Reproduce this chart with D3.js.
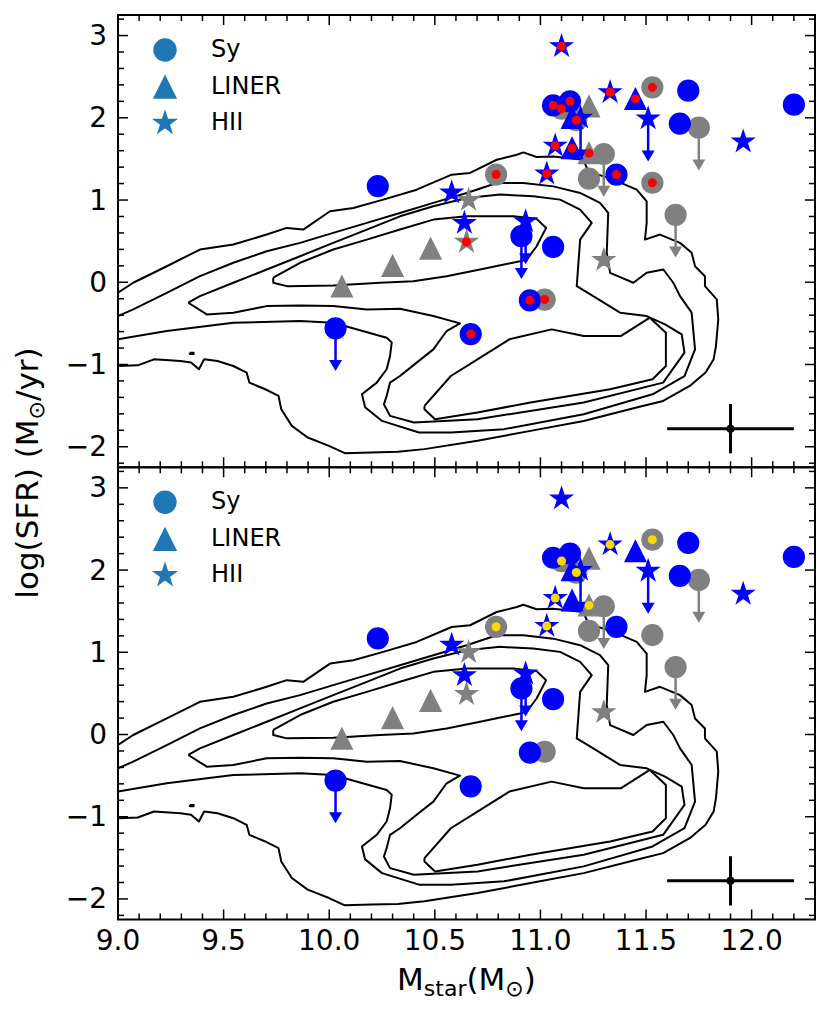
<!DOCTYPE html>
<html><head><meta charset="utf-8">
<script src="https://cdn.jsdelivr.net/npm/d3@7"></script>
<style>body{margin:0;background:#fff;} svg{display:block;font-family:"DejaVu Sans",sans-serif;}</style>
</head><body><svg id="c" width="830" height="1012"></svg>
<script>
// ---------- data ----------
const xDomain = [9.0, 12.3];
const yDomain = [-2.25, 3.25];
const xMajorTicks = [9.0, 9.5, 10.0, 10.5, 11.0, 11.5, 12.0];
const xTickLabels = ["9.0", "9.5", "10.0", "10.5", "11.0", "11.5", "12.0"];
const yMajorTicks = [-2, -1, 0, 1, 2, 3];
const yTickLabels = ["\u22122", "\u22121", "0", "1", "2", "3"];
const legendLabels = ["Sy", "LINER", "HII"];

// Sy (circles)
const syX   = [10.23, 10.03, 10.67, 10.91, 11.06, 10.95, 11.06, 11.14, 11.36, 11.70, 11.66, 12.20, 10.79, 11.02, 11.53, 11.53, 11.23, 11.30, 11.75, 11.64, 11.10, 11.17];
const syY   = [1.17, -0.56, -0.63, 0.56, 0.43, -0.22, 2.15, 2.20, 1.31, 2.33, 1.93, 2.16, 1.31, -0.21, 2.37, 1.21, 1.26, 1.56, 1.88, 0.82, 2.11, 1.97];
const syGrp = ["b","b","b","b","b","b","b","b","b","b","b","b","g","g","g","g","g","g","g","g","g","g"];
const syLim = [0,1,0,1,0,0,0,0,0,0,0,0, 0,0,0,0,0,1,1,1,0,0];
const syRed = [0,0,1,0,0,1,1,1,1,0,0,0, 1,1,1,1,0,0,0,0,1,1];
const syGold= [0,0,0,0,0,0,0,0,0,0,0,0, 1,0,1,0,0,0,0,0,1,1];

// LINER (triangles)
const liX   = [11.15, 11.15, 11.45, 10.06, 10.30, 10.48, 11.23, 11.23];
const liY   = [2.00, 1.63, 2.23, -0.05, 0.20, 0.41, 2.14, 1.57];
const liGrp = ["b","b","b","g","g","g","g","g"];
const liLim = [0,0,0,0,0,0,0,0];
const liRed = [0,1,1,0,0,0,0,1];
const liGold= [0,0,0,0,0,0,0,1];

// HII (stars)
const hiX   = [11.10, 11.07, 11.03, 11.33, 11.19, 11.51, 11.96, 10.58, 10.64, 10.93, 10.66, 10.65, 11.30];
const hiY   = [2.87, 1.66, 1.32, 2.31, 2.00, 1.99, 1.71, 1.09, 0.72, 0.74, 1.00, 0.49, 0.27];
const hiGrp = ["b","b","b","b","b","b","b","b","b","b","g","g","g"];
const hiLim = [0,0,0,0,1,1,0,0,0,1, 0,0,0];
const hiRed = [1,1,1,1,0,0,0,0,0,0, 0,1,0];
const hiGold= [0,1,1,1,0,0,0,0,0,0, 0,0,0];

const arrowLen = 0.52;            // length of upper-limit arrows (dex)
const errX = [11.9], errY = [-1.78], errDX = [0.3], errDY = [0.3];

// density contours (x, y) -- same in both panels
const contour1 = [[9.000,-0.127],[9.072,-0.006],[9.231,0.195],[9.388,0.398],[9.546,0.459],[9.704,0.580],[9.799,0.661],[9.877,0.641],[10.004,0.863],[10.114,0.904],[10.256,1.005],[10.414,1.126],[10.580,1.308],[10.667,1.329],[10.793,1.490],[10.888,1.551],[10.919,1.579],[10.982,1.523],[11.061,1.530],[11.203,1.490],[11.227,1.348],[11.345,1.248],[11.456,1.126],[11.503,0.984],[11.503,0.722],[11.495,0.519],[11.566,0.580],[11.661,0.479],[11.716,0.358],[11.732,0.195],[11.779,0.074],[11.779,-0.047],[11.835,-0.209],[11.842,-0.452],[11.831,-0.776],[11.820,-0.937],[11.782,-1.098],[11.707,-1.261],[11.581,-1.443],[11.455,-1.523],[11.205,-1.686],[10.953,-1.807],[10.702,-1.928],[10.451,-2.029],[10.325,-2.062],[10.200,-2.069],[10.074,-2.078],[9.999,-1.989],[9.898,-1.887],[9.823,-1.746],[9.773,-1.544],[9.760,-1.382],[9.697,-1.301],[9.622,-1.220],[9.609,-1.098],[9.546,-1.018],[9.471,-0.958],[9.408,-0.937],[9.383,-1.058],[9.346,-0.977],[9.295,-0.958],[9.170,-0.937],[9.094,-1.010],[9.000,-1.018]];
const contour2 = [[9.000,-0.411],[9.072,-0.330],[9.231,-0.128],[9.388,0.074],[9.546,0.237],[9.704,0.377],[9.862,0.479],[10.019,0.601],[10.178,0.722],[10.335,0.843],[10.493,0.965],[10.651,1.086],[10.793,1.208],[10.919,1.208],[11.061,1.166],[11.188,1.086],[11.282,0.965],[11.321,0.843],[11.314,0.358],[11.330,0.115],[11.440,-0.006],[11.503,0.115],[11.582,0.155],[11.629,-0.006],[11.661,-0.169],[11.716,-0.370],[11.732,-0.816],[11.682,-1.140],[11.531,-1.362],[11.205,-1.604],[10.828,-1.786],[10.577,-1.826],[10.425,-1.826],[10.250,-1.686],[10.170,-1.519],[10.155,-1.362],[10.225,-1.220],[10.272,-1.058],[10.288,-0.897],[10.296,-0.731],[10.272,-0.674],[10.019,-0.492],[9.862,-0.472],[9.546,-0.492],[9.231,-0.593],[9.000,-0.694]];
const contour3 = [[9.333,-0.249],[9.388,-0.169],[9.546,-0.006],[9.704,0.155],[9.862,0.317],[10.019,0.479],[10.178,0.641],[10.335,0.802],[10.493,0.924],[10.651,1.025],[10.809,1.066],[10.966,1.045],[11.093,1.005],[11.188,0.883],[11.243,0.722],[11.188,0.519],[11.172,-0.047],[11.250,-0.169],[11.377,-0.370],[11.503,-0.411],[11.590,-0.512],[11.669,-0.633],[11.682,-0.856],[11.581,-1.220],[11.205,-1.462],[10.702,-1.665],[10.401,-1.705],[10.288,-1.625],[10.259,-1.483],[10.272,-1.382],[10.288,-1.220],[10.335,-1.140],[10.414,-0.977],[10.493,-0.816],[10.556,-0.593],[10.619,-0.500],[10.493,-0.411],[10.335,-0.322],[10.178,-0.330],[10.019,-0.290],[9.862,-0.282],[9.704,-0.290],[9.546,-0.370],[9.420,-0.391],[9.333,-0.249]];
const contour4a = [[9.735,0.055],[9.862,0.237],[10.019,0.398],[10.178,0.519],[10.335,0.641],[10.493,0.762],[10.651,0.802],[10.809,0.802],[10.872,0.802],[10.982,0.771],[11.027,0.661],[10.982,0.438],[10.935,0.277],[10.903,0.256],[10.714,0.155],[10.556,0.074],[10.398,0.013],[10.241,-0.006],[10.019,-0.039],[9.799,-0.047],[9.735,-0.006],[9.735,0.055]];
const contour4b = [[10.451,-1.504],[10.576,-1.140],[10.702,-0.937],[10.853,-0.694],[11.053,-0.573],[11.205,-0.654],[11.380,-0.654],[11.518,-0.431],[11.594,-0.613],[11.594,-1.018],[11.531,-1.180],[11.330,-1.301],[10.953,-1.462],[10.702,-1.584],[10.501,-1.665],[10.451,-1.544],[10.451,-1.504]];
const contourIsland = [[9.340,-0.857],[9.358,-0.857],[9.358,-0.872],[9.340,-0.872],[9.340,-0.857]];
const contours = [contour1, contour2, contour3, contour4a, contour4b, contourIsland];

// ---------- drawing ----------
const svg = d3.select("#c");
const L = 118, R = 815;
const panels = [
  {top: 15, bot: 467.3, dotColor: "#ff0000", dotKey: "red"},
  {top: 467.3, bot: 919.5, dotColor: "#ffd700", dotKey: "gold"}
];
const x = d3.scaleLinear().domain(xDomain).range([L, R]);
const colorOf = {b: "#0000ff", g: "#808080"};

function circlePath(s){ const r=s/2; return `M${r},0A${r},${r} 0 1,1 ${-r},0A${r},${r} 0 1,1 ${r},0Z`; }
function triPath(s){ const h=s/2; return `M0,${-h}L${h},${h}L${-h},${h}Z`; }
function starPath(s){
  const ro=s/2, ri=ro*0.381966; let p="";
  for(let k=0;k<10;k++){ const r=k%2?ri:ro; const a=-Math.PI/2+k*Math.PI/5;
    p+=(k?"L":"M")+(r*Math.cos(a)).toFixed(2)+","+(r*Math.sin(a)).toFixed(2); }
  return p+"Z";
}

const groups = [
  {X: syX, Y: syY, G: syGrp, lim: syLim, red: syRed, gold: syGold, shape: circlePath, ms: 20.8},
  {X: liX, Y: liY, G: liGrp, lim: liLim, red: liRed, gold: liGold, shape: triPath, ms: 20.8},
  {X: hiX, Y: hiY, G: hiGrp, lim: hiLim, red: hiRed, gold: hiGold, shape: starPath, ms: 22}
];

const xMinor = d3.range(9.0, 12.3001, 0.1).filter(v => Math.abs(v*2 - Math.round(v*2)) > 1e-6);
const yMinor = d3.range(-2.2, 3.2501, 0.2).filter(v => Math.abs(v - Math.round(v)) > 1e-6);

panels.forEach((p, i) => {
  const y = d3.scaleLinear().domain(yDomain).range([p.bot, p.top]);
  const clipId = "clip" + i;
  svg.append("clipPath").attr("id", clipId).append("rect")
     .attr("x", L).attr("y", p.top).attr("width", R - L).attr("height", p.bot - p.top);
  const g = svg.append("g").attr("clip-path", `url(#${clipId})`);

  // contours
  const line = d3.line().x(d => x(d[0])).y(d => y(d[1]));
  contours.forEach(c => g.append("path").attr("d", line(c)).attr("fill", "none")
      .attr("stroke", "#000").attr("stroke-width", 2).attr("stroke-linejoin", "round"));

  // markers: gray first, then blue
  ["g", "b"].forEach(grp => {
    groups.forEach(G => {
      G.X.forEach((xv, k) => {
        if (G.G[k] !== grp) return;
        const col = colorOf[grp];
        if (G.lim[k]) {
          const x0 = x(xv), y0 = y(G.Y[k]), y1 = y(G.Y[k] - arrowLen);
          g.append("line").attr("x1", x0).attr("x2", x0).attr("y1", y0).attr("y2", y1 - 9)
            .attr("stroke", col).attr("stroke-width", 2.5);
          g.append("path").attr("d", `M${x0-6.5},${y1-11}L${x0+6.5},${y1-11}L${x0},${y1}Z`).attr("fill", col);
        }
      });
      G.X.forEach((xv, k) => {
        if (G.G[k] !== grp) return;
        g.append("path").attr("d", G.shape(G.ms))
          .attr("transform", `translate(${x(xv)},${y(G.Y[k])})`)
          .attr("fill", colorOf[grp]).attr("stroke", colorOf[grp]).attr("stroke-width", 1.4)
          .attr("stroke-linejoin", "miter");
      });
    });
  });
  // inner dots
  groups.forEach(G => {
    G.X.forEach((xv, k) => {
      if (!G[p.dotKey][k]) return;
      g.append("circle").attr("cx", x(xv)).attr("cy", y(G.Y[k])).attr("r", 4.5).attr("fill", p.dotColor);
    });
  });

  // error bar
  errX.forEach((ex, k) => {
    g.append("line").attr("x1", x(ex - errDX[k])).attr("x2", x(ex + errDX[k]))
      .attr("y1", y(errY[k])).attr("y2", y(errY[k])).attr("stroke", "#000").attr("stroke-width", 3);
    g.append("line").attr("x1", x(ex)).attr("x2", x(ex))
      .attr("y1", y(errY[k] - errDY[k])).attr("y2", y(errY[k] + errDY[k])).attr("stroke", "#000").attr("stroke-width", 3);
    g.append("circle").attr("cx", x(ex)).attr("cy", y(errY[k])).attr("r", 4).attr("fill", "#000");
  });

  // legend
  const legShapes = [circlePath, triPath, starPath];
  const legSize = [22, 22, 23];
  const legY = [35, 72, 108];
  legendLabels.forEach((lab, k) => {
    svg.append("path").attr("d", legShapes[k](legSize[k])).attr("fill", "#1f77b4")
       .attr("stroke", "#1f77b4").attr("stroke-width", 1.4)
       .attr("transform", `translate(165,${p.top + legY[k]})`);
    svg.append("text").attr("x", 211).attr("y", p.top + legY[k] - 1)
       .attr("dominant-baseline", "central").attr("font-size", 24).attr("fill", "#000").text(lab);
  });

  // ticks (inward) on all sides
  const tickG = svg.append("g").attr("stroke", "#000").attr("stroke-width", 1.5);
  const addX = (vals, len) => vals.forEach(v => {
    tickG.append("line").attr("x1", x(v)).attr("x2", x(v)).attr("y1", p.bot).attr("y2", p.bot - len);
    tickG.append("line").attr("x1", x(v)).attr("x2", x(v)).attr("y1", p.top).attr("y2", p.top + len);
  });
  const addY = (vals, len) => vals.forEach(v => {
    tickG.append("line").attr("x1", L).attr("x2", L + len).attr("y1", y(v)).attr("y2", y(v));
    tickG.append("line").attr("x1", R).attr("x2", R - len).attr("y1", y(v)).attr("y2", y(v));
  });
  addX(xMajorTicks, 10); addX(xMinor, 6);
  addY(yMajorTicks, 10); addY(yMinor, 6);

  // y tick labels
  yMajorTicks.forEach((v, k) => {
    svg.append("text").attr("x", 107).attr("y", y(v)).attr("text-anchor", "end")
       .attr("dominant-baseline", "central").attr("font-size", 28).text(yTickLabels[k]);
  });

  // frame
  svg.append("rect").attr("x", L).attr("y", p.top).attr("width", R - L).attr("height", p.bot - p.top)
     .attr("fill", "none").attr("stroke", "#000").attr("stroke-width", 2);

  if (i === 1) {
    xMajorTicks.forEach((v, k) => {
      svg.append("text").attr("x", x(v)).attr("y", 950).attr("text-anchor", "middle")
         .attr("font-size", 28).text(xTickLabels[k]);
    });
  }
});

// axis labels
const xl = svg.append("text").attr("x", (L + R) / 2).attr("y", 990).attr("text-anchor", "middle").attr("font-size", 31);
xl.append("tspan").text("M");
xl.append("tspan").attr("font-size", 22).attr("dy", 6).text("star");
xl.append("tspan").attr("dy", -6).text("(M");
xl.append("tspan").attr("font-size", 22).attr("dy", 6).text("\u2299");
xl.append("tspan").attr("dy", -6).text(")");

const yl = svg.append("text").attr("transform", "translate(38,473) rotate(-90)").attr("text-anchor", "middle").attr("font-size", 31);
yl.append("tspan").text("log(SFR) (M");
yl.append("tspan").attr("font-size", 22).attr("dy", 6).text("\u2299");
yl.append("tspan").attr("dy", -6).text("/yr)");
</script></body></html>
